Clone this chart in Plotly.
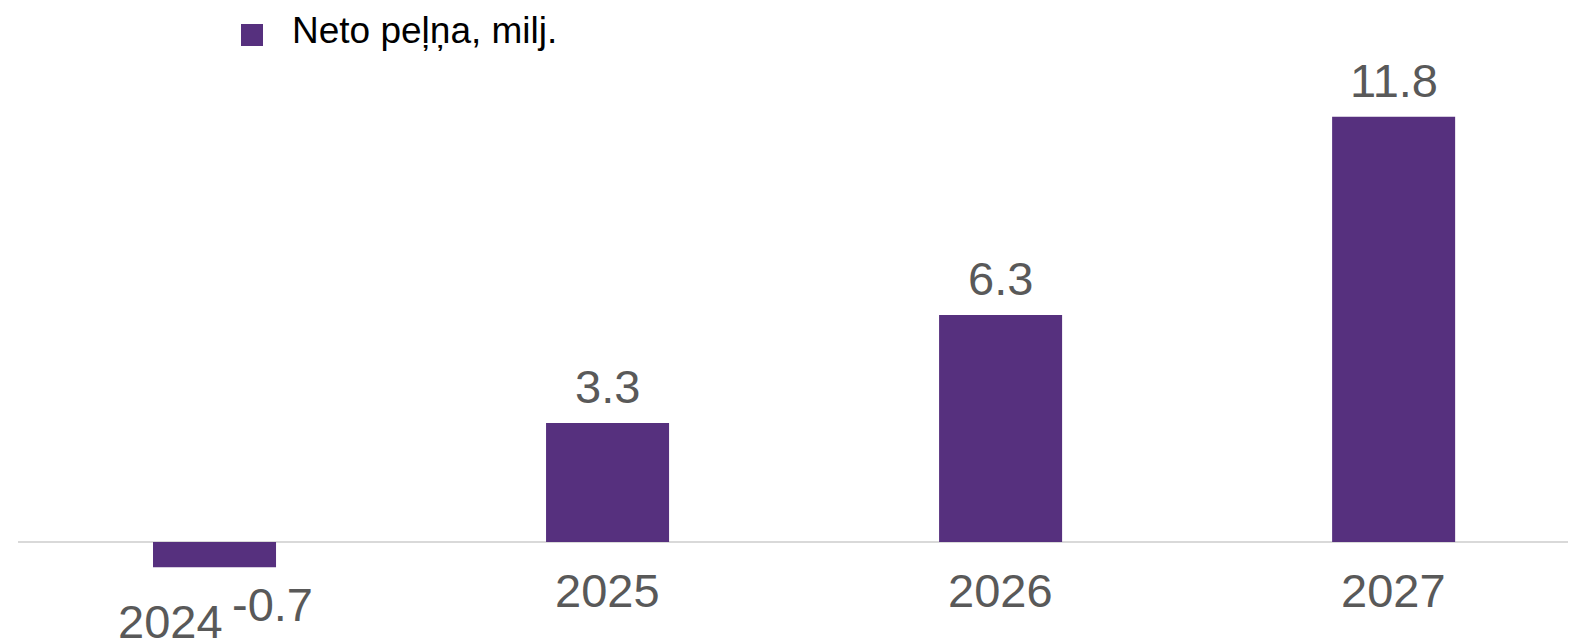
import plotly.graph_objects as go

categories = ["2024", "2025", "2026", "2027"]
values = [-0.7, 3.3, 6.3, 11.8]
value_labels = ["-0.7", "3.3", "6.3", "11.8"]
series_name = "Neto peļņa, milj."

BAR_COLOR = "#56307e"
TEXT_GREY = "#595959"
FONT = "Liberation Sans, Arial, sans-serif"
# the page body has a default 8px margin, so the figure is drawn 8px in
OFF = 8
W, H = 1576 - OFF, 639 - OFF
ML = 18 - OFF
ZERO_Y = 542 - OFF          # pixel row of the zero line inside the figure
PX_PER_UNIT = 36.04

fig = go.Figure()
fig.add_trace(go.Bar(
    x=categories, y=values, width=0.313,
    marker=dict(color=BAR_COLOR, line=dict(width=0)),
    name=series_name, showlegend=False,
))

annotations = []
for i, (c, v, t) in enumerate(zip(categories, values, value_labels)):
    if v >= 0:
        annotations.append(dict(
            x=i, y=0, xref="x", yref="y", text=c, showarrow=False,
            xanchor="center", yanchor="top", yshift=-20,
            font=dict(family=FONT, size=47, color=TEXT_GREY),
        ))
        annotations.append(dict(
            x=i, y=v, xref="x", yref="y", text=t, showarrow=False,
            xanchor="center", yanchor="bottom", yshift=8,
            font=dict(family=FONT, size=47, color=TEXT_GREY),
        ))
    else:
        annotations.append(dict(
            x=i, y=v, xref="x", yref="y", text=c, showarrow=False,
            xanchor="center", yanchor="top", yshift=-26, xshift=-44,
            font=dict(family=FONT, size=47, color=TEXT_GREY),
        ))
        annotations.append(dict(
            x=i, y=v, xref="x", yref="y", text=t, showarrow=False,
            xanchor="center", yanchor="top", yshift=-9, xshift=58,
            font=dict(family=FONT, size=47, color=TEXT_GREY),
        ))

pw = W - ML
def px(x):
    return (x - OFF - ML) / pw
def py(y):
    return 1 - (y - OFF) / H

annotations.append(dict(
    x=px(290), y=py(31), xref="paper", yref="paper", text=series_name,
    showarrow=False, xanchor="left", yanchor="middle",
    font=dict(family=FONT, size=37, color="#000000"),
))
shapes = [dict(type="rect", xref="paper", yref="paper",
               x0=px(241), x1=px(263), y0=py(46), y1=py(24),
               fillcolor=BAR_COLOR, line=dict(width=0))]

ymax = ZERO_Y / PX_PER_UNIT
ymin = -(H - ZERO_Y) / PX_PER_UNIT

fig.update_layout(
    width=W, height=H,
    margin=dict(l=ML, r=0, t=0, b=0),
    paper_bgcolor="white", plot_bgcolor="white",
    showlegend=False,
    annotations=annotations, shapes=shapes,
    xaxis=dict(type="category", range=[-0.5, 3.464], showticklabels=False,
               showgrid=False, zeroline=False, showline=False, ticks=""),
    yaxis=dict(range=[ymin, ymax], showticklabels=False, showgrid=False,
               zeroline=True, zerolinecolor="#d9d9d9", zerolinewidth=2,
               showline=False, ticks=""),
)

fig.write_html("out.html")
